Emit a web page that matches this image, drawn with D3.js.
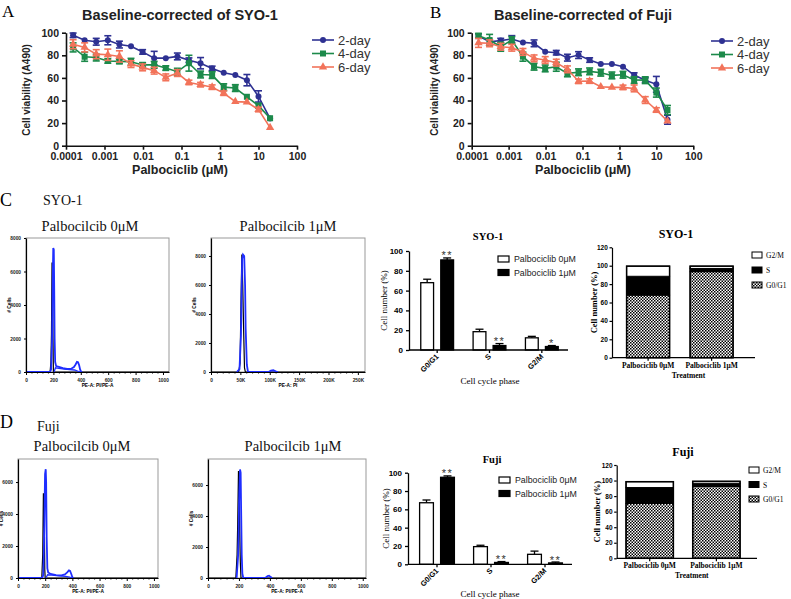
<!DOCTYPE html>
<html><head><meta charset="utf-8">
<script src="https://cdn.jsdelivr.net/npm/d3@7"></script>
<style>body{margin:0;background:#fff}svg{display:block}</style>
</head><body>
<svg id="c" width="791" height="599"></svg>
<script>
// ---------------- DATA ----------------
const doses = [0.000153,0.000305,0.00061,0.00122,0.00244,0.00488,0.00977,0.0195,0.0391,0.0781,0.156,0.3125,0.625,1.25,2.5,5,10,20];
const dayNames = ["2-day","4-day","6-day"];
const doseTicks = [0.0001,0.001,0.01,0.1,1,10,100];
const doseTickLabels = ["0.0001","0.001","0.01","0.1","1","10","100"];
const viabTicks = [0,20,40,60,80,100];

const syo2day = [97.7,93.3,92,93.3,89.5,88,83,77.5,77.5,79,75.7,73,68.4,64.6,62.6,58,43.6,24];
const syo2err = [2,1,3,4,3,1,2,6,1,3,2,5,2,1,1,5,5,1];
const syo4day = [87,78.7,78,75,74.6,74.3,71.5,71.6,68.7,65.5,73,63,62.5,51.8,51,43.3,35.4,24.3];
const syo4err = [4,4,3,2,2,3,2,3,2,3,7,3,3,3,3,1,2,1];
const syo6day = [89.8,87,81,80.5,79,72.2,69.3,66.4,60.5,64.3,56,54,51.8,46.5,39,38.6,32,16];
const syo6err = [4,4,4,5,5,3,3,3,3,3,2,2,2,2,1,1,2,1];

const fuji2day = [97,92,93,94.4,91.4,90.6,83.2,82.3,77.9,80.2,75.8,72.3,72.3,69.9,62.5,58,54.3,23];
const fuji2err = [2,2,2,3,1,3,1,2,3,3,2,1,1,1,2,2,7,4];
const fuji4day = [97.3,93.5,87.6,93.5,78.8,69.9,68.4,69.9,64,65,65.8,64.6,62.2,62.8,58.1,58,47,31.6];
const fuji4err = [2,5,4,3,4,3,3,4,3,3,3,3,3,3,3,3,4,4];
const fuji6day = [91,90.6,87.6,86.7,83,77.3,75.8,73.5,67.6,57,57.2,52.2,51.6,51.6,50.7,40.4,31.6,21.8];
const fuji6err = [4,3,3,3,3,3,3,3,3,2,2,1,1,2,3,3,2,1];

// flow histograms: [channel, count]
const syo0Blue = [[0,0],[175,0],[183,150],[190,1800],[195,5500],[199,7400],[203,7300],[206,5000],[209,2000],[213,600],[220,350],[240,300],[270,230],[300,180],[330,200],[350,300],[362,450],[372,600],[380,580],[388,400],[395,150],[402,20],[410,0]];
const syo0Blue2 = [[205,0],[215,250],[240,220],[280,170],[320,140],[355,120],[375,60],[395,0]];
const syo0Black = [[0,0],[176,0],[182,600],[186,2300],[190,6500],[194,6500],[197,2000],[200,0],[1044,0]];
const syo1Blue = [[44000,0],[48500,200],[51000,2500],[53000,7800],[54500,8100],[56500,8000],[58000,6000],[59000,3000],[61000,500],[63000,0],[98000,0],[102000,100],[106000,120],[110000,40],[114000,0]];
const syo1Black = [[0,0],[47000,0],[49500,600],[51000,4600],[52500,8100],[54000,6000],[55500,3000],[57000,300],[58500,0],[262144,0]];
const fuji0Blue = [[0,0],[178,0],[186,200],[193,3000],[199,6500],[204,6800],[207,6000],[211,2500],[216,600],[222,350],[240,250],[280,180],[320,170],[345,230],[362,350],[375,480],[383,450],[392,250],[400,50],[408,0]];
const fuji0Blue2 = [[205,0],[218,200],[250,180],[300,130],[350,100],[380,50],[398,0]];
const fuji0Black = [[0,0],[175,0],[182,1500],[187,5300],[191,4000],[194,3000],[197,500],[200,0],[1030,0]];
const fuji1Blue = [[185,0],[195,1500],[202,5500],[207,7000],[211,6800],[214,4500],[218,1500],[222,300],[228,0],[370,0],[385,120],[395,150],[405,60],[415,0]];
const fuji1Black = [[0,0],[180,0],[188,1500],[192,3500],[197,6900],[201,6500],[205,3000],[209,1000],[213,0],[1021,0]];
const chanTicks = [0,200,400,600,800,1000];
const areaTicks = [0,50000,100000,150000,200000,250000];
const areaTickLabels = ["0","50K","100K","150K","200K","250K"];

// cell-cycle bars
const phases = ["G0/G1","S","G2/M"];
const treatments = ["Palbociclib 0μM","Palbociclib 1μM"];
const syoCtrl = [68,18.5,12.3], syoCtrlErr = [3.5,2.5,1.5];
const syoPalbo = [91,4.5,3.5], syoPalboErr = [2,2,1];
const syoSig = ["**","**","*"];
const fujiCtrl = [67.2,19.3,10.9], fujiCtrlErr = [3,1.5,3.5];
const fujiPalbo = [95,2,1.5], fujiPalboErr = [1.5,1,1];
const fujiSig = ["**","**","**"];
const pctTicks = [0,20,40,60,80,100];
const stackTicks = [0,20,40,60,80,100,120];
// stacked: per treatment [G0/G1, S, G2/M]
const syoStackG0G1 = [68,93.5], syoStackS = [20.5,3.5], syoStackG2M = [11,2.5];
const fujiStackG0G1 = [70.5,92.5], fujiStackS = [20.5,4], fujiStackG2M = [7.5,2.5];

// ---------------- DRAW ----------------
const FS = "'Liberation Serif','Times New Roman',serif";
const FA = "'Liberation Sans',Arial,sans-serif";
const svg = d3.select("#c");
svg.append("rect").attr("width",791).attr("height",599).attr("fill","#fff");
const defs = svg.append("defs");
const pat = defs.append("pattern").attr("id","chk").attr("width",3).attr("height",3).attr("patternUnits","userSpaceOnUse");
pat.append("rect").attr("width",3).attr("height",3).attr("fill","#fff");
pat.append("rect").attr("width",1.5).attr("height",1.5).attr("fill","#000");
pat.append("rect").attr("x",1.5).attr("y",1.5).attr("width",1.5).attr("height",1.5).attr("fill","#000");

function txt(x,y,s,o={}){
  const t = svg.append("text").attr("x",x).attr("y",y).text(s)
    .attr("font-family",o.f||FA).attr("font-size",o.s||10).attr("fill",o.c||"#000")
    .attr("font-weight",o.w||"normal").attr("text-anchor",o.a||"start");
  if(o.r) t.attr("transform",`rotate(${o.r},${x},${y})`);
  return t;
}

// panel letters
txt(2,17,"A",{f:FS,s:17});
txt(430,18,"B",{f:FS,s:17});
txt(0,206,"C",{f:FS,s:18});
txt(0,428,"D",{f:FS,s:18});

const colors = ["#2e3192","#1c8a4a","#f2735a"];
function marker(g,shape,cx,cy,col){
  if(shape===0) g.append("circle").attr("cx",cx).attr("cy",cy).attr("r",3).attr("fill",col);
  else if(shape===1) g.append("rect").attr("x",cx-3).attr("y",cy-3).attr("width",6).attr("height",6).attr("fill",col);
  else g.append("path").attr("d",d3.symbol(d3.symbolTriangle,30)()).attr("transform",`translate(${cx},${cy})`).attr("fill",col);
}

function doseResp(cfg){
  const x = d3.scaleLog().domain([0.0001,100]).range([cfg.x0,cfg.x1]);
  const y = d3.scaleLinear().domain([0,100]).range([145.7,32.7]);
  const g = svg.append("g");
  const series = cfg.series;
  series.forEach((s,k)=>{
    const col = colors[k];
    const line = d3.line().x((d,i)=>x(doses[i])).y(d=>y(d));
    g.append("path").attr("d",line(s.v)).attr("fill","none").attr("stroke",col).attr("stroke-width",1.6);
    s.v.forEach((v,i)=>{
      const cx = x(doses[i]);
      const e = s.e[i];
      if(e>1.2){
        g.append("line").attr("x1",cx).attr("x2",cx).attr("y1",y(v-e)).attr("y2",y(v+e)).attr("stroke",col).attr("stroke-width",1.6);
        [v-e,v+e].forEach(t=>g.append("line").attr("x1",cx-3.5).attr("x2",cx+3.5).attr("y1",y(t)).attr("y2",y(t)).attr("stroke",col).attr("stroke-width",1.6));
      }
      marker(g,k,cx,y(v),col);
    });
  });
  const ya = svg.append("g").attr("transform",`translate(${cfg.x0},0)`)
    .call(d3.axisLeft(y).tickValues(viabTicks).tickSize(4).tickSizeOuter(0));
  const xa = svg.append("g").attr("transform",`translate(0,145.7)`)
    .call(d3.axisBottom(x).tickValues(doseTicks).tickFormat((d,i)=>doseTickLabels[i]).tickSize(4).tickSizeOuter(0));
  [ya,xa].forEach(a=>{
    a.selectAll("path,line").attr("stroke","#111").attr("stroke-width",1.6);
    a.selectAll("text").attr("font-family",FA).attr("font-weight","bold").attr("font-size",10.5).attr("fill","#222");
  });
  txt(cfg.tx,20,cfg.title,{w:"bold",s:14.5,a:"middle",c:"#222"});
  txt(cfg.tx,174,"Palbociclib (μM)",{w:"bold",s:12.5,a:"middle",c:"#222"});
  txt(cfg.ylx,90,"Cell viability (A490)",{w:"bold",s:10,a:"middle",c:"#222",r:-90});
  dayNames.forEach((n,k)=>{
    const ly = cfg.ly + k*13.5;
    svg.append("line").attr("x1",cfg.lx).attr("x2",cfg.lx+22).attr("y1",ly).attr("y2",ly).attr("stroke",colors[k]).attr("stroke-width",1.6);
    marker(svg,k,cfg.lx+11,ly,colors[k]);
    txt(cfg.lx+26,ly+4.5,n,{s:13,c:"#333"});
  });
}
doseResp({x0:66,x1:297,title:"Baseline-corrected of SYO-1",tx:180,ylx:30,lx:312,ly:40,
  series:[{v:syo2day,e:syo2err},{v:syo4day,e:syo4err},{v:syo6day,e:syo6err}]});
doseResp({x0:471.7,x1:693.3,title:"Baseline-corrected of Fuji",tx:583,ylx:438,lx:711,ly:41,
  series:[{v:fuji2day,e:fuji2err},{v:fuji4day,e:fuji4err},{v:fuji6day,e:fuji6err}]});

// flow histograms
function histo(c){
  const x = d3.scaleLinear().domain(c.xd).range([c.bx0,c.bx1]);
  const y = d3.scaleLinear().domain(c.yd).range([c.by1,c.by0]);
  const g = svg.append("g");
  g.append("rect").attr("x",c.bx0).attr("y",c.by0).attr("width",c.bx1-c.bx0).attr("height",c.by1-c.by0)
    .attr("fill","none").attr("stroke","#999").attr("stroke-width",1);
  const line = d3.line().x(d=>x(d[0])).y(d=>y(d[1]));
  g.append("path").attr("d",line(c.black)).attr("fill","none").attr("stroke","#000").attr("stroke-width",1.2);
  if(c.blue2) g.append("path").attr("d",line(c.blue2)).attr("fill","none").attr("stroke","#1f2eff").attr("stroke-width",1.3);
  g.append("path").attr("d",line(c.blue)).attr("fill","none").attr("stroke","#1f2eff").attr("stroke-width",1.8);
  const ya = g.append("g").attr("transform",`translate(${c.bx0},0)`)
    .call(d3.axisLeft(y).tickValues(c.yticks).tickFormat(d3.format("d")).tickSize(2).tickSizeOuter(0));
  const minor = [];
  for(let i=0;i<c.xticks.length-1;i++){ const a=c.xticks[i], b=c.xticks[i+1];
    for(let k=1;k<5;k++) minor.push(a+(b-a)*k/5); }
  g.append("g").attr("transform",`translate(0,${c.by1})`)
    .call(d3.axisBottom(x).tickValues(minor).tickSize(1.5).tickFormat("")).selectAll("path").remove();
  const xa = g.append("g").attr("transform",`translate(0,${c.by1})`)
    .call(d3.axisBottom(x).tickValues(c.xticks).tickFormat((d,i)=>c.xlabels?c.xlabels[i]:d).tickSize(3).tickSizeOuter(0));
  g.selectAll(".tick line").attr("stroke","#000");
  [ya,xa].forEach(a=>{a.select("path").attr("stroke","#000").attr("stroke-width",1.2);
    a.selectAll("text").attr("font-family",FA).attr("font-size",4.8).attr("font-weight","bold").attr("fill","#222");});
  xa.selectAll("text").attr("dy","0.9em");
  txt(c.bx0-15,(c.by0+c.by1)/2,"# Cells",{s:4.8,w:"bold",a:"middle",r:-90});
  txt((c.bx0+c.bx1)/2,c.by1+15,c.xlab,{s:4.8,w:"bold",a:"middle"});
  txt(c.tx,c.ty,c.title,{f:FS,s:14.5,a:"middle",c:"#111"});
}
txt(43,205,"SYO-1",{f:FS,s:14,c:"#111"});
txt(37,431,"Fuji",{f:FS,s:14,c:"#111"});
histo({bx0:26,bx1:169,by0:238,by1:372,xd:[0,1044],yd:[0,8000],xticks:chanTicks,yticks:[0,2000,4000,6000,8000],
  blue:syo0Blue,blue2:syo0Blue2,black:syo0Black,title:"Palbocilcib 0μM",tx:90,ty:231,xlab:"PE-A: PI/PE-A"});
histo({bx0:211,bx1:365,by0:238,by1:372,xd:[0,262144],yd:[0,9240],xticks:areaTicks,xlabels:areaTickLabels,yticks:[0,2000,4000,6000,8000],
  blue:syo1Blue,black:syo1Black,title:"Palbocilcib 1μM",tx:288,ty:231,xlab:"PE-A: PI"});
histo({bx0:18,bx1:158,by0:459,by1:578,xd:[0,1030],yd:[0,7440],xticks:chanTicks,yticks:[0,2000,4000,6000],
  blue:fuji0Blue,blue2:fuji0Blue2,black:fuji0Black,title:"Palbocilcib 0μM",tx:82,ty:451,xlab:"PE-A: PI/PE-A"});
histo({bx0:208,bx1:366,by0:459,by1:578,xd:[0,1021],yd:[0,7680],xticks:chanTicks,yticks:[0,2000,4000,6000],
  blue:fuji1Blue,black:fuji1Black,title:"Palbocilcib 1μM",tx:293,ty:451,xlab:"PE-A: PI/PE-A"});

// grouped bars
function grouped(c){
  const y = d3.scaleLinear().domain([0,100]).range([c.yb,c.yt]);
  const x = d3.scaleBand().domain(phases).range(c.br);
  const g = svg.append("g");
  const bw = c.bw;
  phases.forEach((p,i)=>{
    const cx = x(p)+x.bandwidth()/2;
    [[c.v0,c.e0,"#fff",cx-3-bw],[c.v1,c.e1,"#000",cx+3]].forEach(([v,e,fill,bx])=>{
      const val=v[i], err=e[i];
      g.append("line").attr("x1",bx+bw/2).attr("x2",bx+bw/2).attr("y1",y(val)).attr("y2",y(val+err)).attr("stroke","#000").attr("stroke-width",1.3);
      g.append("line").attr("x1",bx+bw/2-4).attr("x2",bx+bw/2+4).attr("y1",y(val+err)).attr("y2",y(val+err)).attr("stroke","#000").attr("stroke-width",1.3);
      g.append("rect").attr("x",bx+0.6).attr("y",y(val)).attr("width",bw-1.2).attr("height",c.yb-y(val))
        .attr("fill",fill).attr("stroke","#000").attr("stroke-width",1.3);
    });
    txt(cx+3+bw/2,y(c.v1[i]+c.e1[i])-4,c.sig[i],{s:11,a:"middle",c:"#333"}).attr("letter-spacing",1.5).attr("dy","0.5em");
    txt(cx+2,c.yb+7,p,{s:7.5,w:"bold",a:"end",r:-45});
  });
  const ya = g.append("g").attr("transform",`translate(${c.br[0]-2},0)`)
    .call(d3.axisLeft(y).tickValues(pctTicks).tickSize(3).tickSizeOuter(0));
  ya.selectAll("text").attr("font-family",FA).attr("font-size",8).attr("font-weight","bold");
  ya.selectAll("path,line").attr("stroke","#000").attr("stroke-width",1.3);
  const xa = g.append("g").attr("transform",`translate(0,${c.yb})`)
    .call(d3.axisBottom(x).tickSize(3).tickSizeOuter(0).tickFormat(""));
  xa.select("path").attr("d",`M${c.br[0]-2},0H${c.br[1]}`);
  xa.selectAll("path,line").attr("stroke","#000").attr("stroke-width",1.3);
  txt(c.ylx,(c.yb+c.yt)/2,"Cell number (%)",{f:FS,s:9,a:"middle",r:-90});
  txt(490,c.xly,"Cell cycle phase",{f:FS,s:9,a:"middle"});
  txt(c.tx,c.ty,c.title,{f:FS,s:10.5,w:"bold",a:"middle"});
  [["#fff",0],["#000",1]].forEach(([f,k])=>{
    const ly = c.ly + k*13.5;
    g.append("rect").attr("x",c.lx).attr("y",ly-6).attr("width",11).attr("height",6).attr("fill",f).attr("stroke","#000").attr("stroke-width",1.2);
    txt(c.lx+16,ly,treatments[k],{s:8.8,c:"#222"});
  });
}
grouped({yb:350,yt:251,br:[411,568],bw:14,v0:syoCtrl,e0:syoCtrlErr,v1:syoPalbo,e1:syoPalboErr,sig:syoSig,
  title:"SYO-1",tx:488,ty:240,lx:498,ly:262,ylx:387,xly:384});
grouped({yb:564.3,yt:472.7,br:[410,572],bw:15,v0:fujiCtrl,e0:fujiCtrlErr,v1:fujiPalbo,e1:fujiPalboErr,sig:fujiSig,
  title:"Fuji",tx:492,ty:463,lx:499,ly:483,ylx:389,xly:597});

// stacked bars
function stacked(c){
  const y = d3.scaleLinear().domain([0,120]).range([c.yb,c.yt]);
  const x = d3.scaleBand().domain(treatments).range(c.br).paddingInner(c.pi).paddingOuter(c.po);
  const g = svg.append("g");
  const layers = [[c.g0,"url(#chk)"],[c.s,"#000"],[c.g2,"#fff"]];
  treatments.forEach((t,i)=>{
    let base = 0;
    layers.forEach(([arr,fill])=>{
      const v = arr[i];
      g.append("rect").attr("x",x(t)).attr("width",x.bandwidth()).attr("y",y(base+v)).attr("height",y(base)-y(base+v))
        .attr("fill",fill).attr("stroke","#000").attr("stroke-width",1);
      base += v;
    });
    g.append("rect").attr("x",x(t)).attr("width",x.bandwidth()).attr("y",y(base)).attr("height",c.yb-y(base))
      .attr("fill","none").attr("stroke","#000").attr("stroke-width",1.5);
    txt(x(t)+x.bandwidth()/2,c.yb+10,t,{f:FS,s:7.5,w:"bold",a:"middle"});
  });
  const ya = g.append("g").attr("transform",`translate(${c.br[0]},0)`)
    .call(d3.axisLeft(y).tickValues(stackTicks).tickSize(2.5).tickSizeOuter(0));
  ya.selectAll("text").attr("font-family",FA).attr("font-size",6.5).attr("font-weight","bold").attr("dx","0.2em");
  ya.selectAll("path,line").attr("stroke","#000").attr("stroke-width",1.2);
  const xa = g.append("g").attr("transform",`translate(0,${c.yb})`)
    .call(d3.axisBottom(x).tickSize(3).tickSizeOuter(0).tickFormat(""));
  xa.select("path").attr("d",`M${c.br[0]},0H${c.xend}`);
  xa.selectAll("path,line").attr("stroke","#000").attr("stroke-width",1.2);
  txt(c.ylx,(c.yb+c.yt)/2,"Cell number (%)",{f:FS,s:8.5,w:"bold",a:"middle",r:-90});
  txt((c.br[0]+c.xend)/2+5,c.yb+20,"Treatment",{f:FS,s:7.5,w:"bold",a:"middle"});
  txt(c.tx,c.ty,c.title,{f:FS,s:12,w:"bold",a:"middle"});
  [["G2/M","#fff"],["S","#000"],["G0/G1","url(#chk)"]].forEach(([n,f],k)=>{
    const ly = c.ly + k*c.lsp;
    g.append("rect").attr("x",c.lx).attr("y",ly-5).attr("width",10).attr("height",6).attr("fill",f).attr("stroke","#000").attr("stroke-width",1);
    txt(c.lx+14,ly+1,n,{f:FS,s:7.5});
  });
}
stacked({yb:357.7,yt:247.3,br:[612,747.7],pi:0.323,po:0.23,xend:755,g0:syoStackG0G1,s:syoStackS,g2:syoStackG2M,
  title:"SYO-1",tx:676,ty:238,ylx:597,lx:752,ly:257,lsp:15});
stacked({yb:558.3,yt:465,br:[616.7,749.4],pi:0.29,po:0.14,xend:757,g0:fujiStackG0G1,s:fujiStackS,g2:fujiStackG2M,
  title:"Fuji",tx:683,ty:456,ylx:600,lx:749,ly:472,lsp:14.5});
</script>
</body></html>
